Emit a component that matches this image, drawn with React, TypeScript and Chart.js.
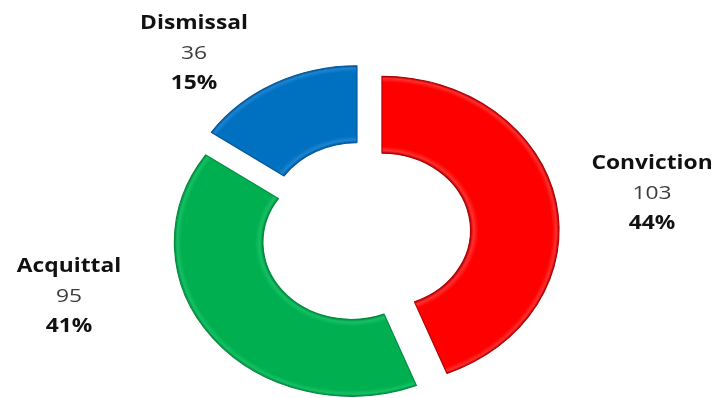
import React, { useEffect, useRef } from "react";
import { Chart, registerables } from "chart.js";

Chart.register(...registerables);

// ---- data ----
const categories = ["Conviction", "Acquittal", "Dismissal"];
const counts = [103, 95, 36];

// ---- styles ----
const baseColors = ["#ff0000", "#00b050", "#0070c0"];
const lightColors = ["#ff2e2e", "#16c066", "#1c84d2"];
const darkColors = ["#b00000", "#008a3c", "#00579a"];
const STRETCH_X = 1.15; // horizontal stretch of the ring
const TEXT_STRETCH = 1.2; // horizontal stretch of the labels
const EXPLODE = 15; // radial explosion of each slice, px
const RADIUS = 154;
const CUTOUT = 0.5;
// label block anchors relative to doughnut centre (screen px): [dx, dy of first line]
const labelOffsets: [number, number][] = [
  [287, -69],
  [-296, 34],
  [-171, -209],
];
const LINE_GAP = 30;

function arcMid(i: number) {
  const total = counts.reduce((a, b) => a + b, 0);
  let before = 0;
  for (let k = 0; k < i; k++) before += counts[k];
  return -Math.PI / 2 + (2 * Math.PI * (before + counts[i] / 2)) / total;
}

export default function App() {
  const ref = useRef<HTMLCanvasElement | null>(null);

  useEffect(() => {
    document.body.style.margin = "0";
    const canvas = ref.current;
    if (!canvas) return;

    const explodePlugin = {
      id: "explode",
      afterDatasetUpdate(chart: any, args: any) {
        const meta = args.meta;
        meta.data.forEach((arc: any) => {
          const mid = (arc.startAngle + arc.endAngle) / 2;
          arc.x += Math.cos(mid) * EXPLODE;
          arc.y += Math.sin(mid) * EXPLODE;
        });
      },
    };

    const stretchPlugin = {
      id: "stretch",
      beforeDatasetsDraw(chart: any) {
        const a = chart.chartArea;
        const cx = (a.left + a.right) / 2;
        const ctx = chart.ctx;
        ctx.save();
        ctx.translate(cx, 0);
        ctx.scale(STRETCH_X, 1);
        ctx.translate(-cx, 0);
      },
      afterDatasetsDraw(chart: any) {
        chart.ctx.restore();
      },
    };

    const labelPlugin = {
      id: "labels",
      afterDraw(chart: any) {
        const a = chart.chartArea;
        const cx = (a.left + a.right) / 2;
        const cy = (a.top + a.bottom) / 2;
        const ctx = chart.ctx;
        const total = counts.reduce((p, q) => p + q, 0);
        categories.forEach((name, i) => {
          const x = cx + labelOffsets[i][0];
          const y0 = cy + labelOffsets[i][1];
          const lines = [
            { t: name, f: "bold 19px 'Open Sans'", c: "#111111" },
            { t: String(counts[i]), f: "19px 'Open Sans'", c: "#3c3c3c" },
            { t: Math.round((counts[i] / total) * 100) + "%", f: "bold 19px 'Open Sans'", c: "#111111" },
          ];
          lines.forEach((ln, j) => {
            ctx.save();
            ctx.translate(x, y0 + j * LINE_GAP);
            ctx.scale(TEXT_STRETCH, 1);
            ctx.font = ln.f;
            ctx.fillStyle = ln.c;
            ctx.textAlign = "center";
            ctx.textBaseline = "middle";
            ctx.fillText(ln.t, 0, 0);
            ctx.restore();
          });
        });
      },
    };

    const chart = new Chart(canvas, {
      type: "doughnut",
      data: {
        labels: categories,
        datasets: [
          {
            data: counts,
            clip: false as any,
            borderWidth: 1,
            borderColor: darkColors,
            backgroundColor: (c: any) => {
              const chart = c.chart;
              const i = c.dataIndex;
              const a = chart.chartArea;
              if (!a || i === undefined) return baseColors[i ?? 0];
              const mid = arcMid(i);
              const x = (a.left + a.right) / 2 + Math.cos(mid) * EXPLODE;
              const y = (a.top + a.bottom) / 2 + Math.sin(mid) * EXPLODE;
              const rIn = RADIUS * CUTOUT;
              const g = chart.ctx.createRadialGradient(x, y, rIn, x, y, RADIUS);
              g.addColorStop(0, darkColors[i]);
              g.addColorStop(0.035, lightColors[i]);
              g.addColorStop(0.09, baseColors[i]);
              g.addColorStop(0.92, baseColors[i]);
              g.addColorStop(0.97, lightColors[i]);
              g.addColorStop(1, darkColors[i]);
              return g;
            },
          } as any,
        ],
      },
      options: {
        animation: false,
        responsive: true,
        maintainAspectRatio: false,
        radius: RADIUS,
        cutout: CUTOUT * 100 + "%",
        layout: { padding: { top: 68, left: 2, right: 0, bottom: 0 } },
        plugins: {
          legend: { display: false },
          tooltip: { enabled: false },
        },
      } as any,
      plugins: [explodePlugin, stretchPlugin, labelPlugin],
    });

    return () => chart.destroy();
  }, []);

  return (
    <div style={{ position: "relative", width: 728, height: 398, background: "#ffffff" }}>
      <canvas ref={ref} />
    </div>
  );
}
